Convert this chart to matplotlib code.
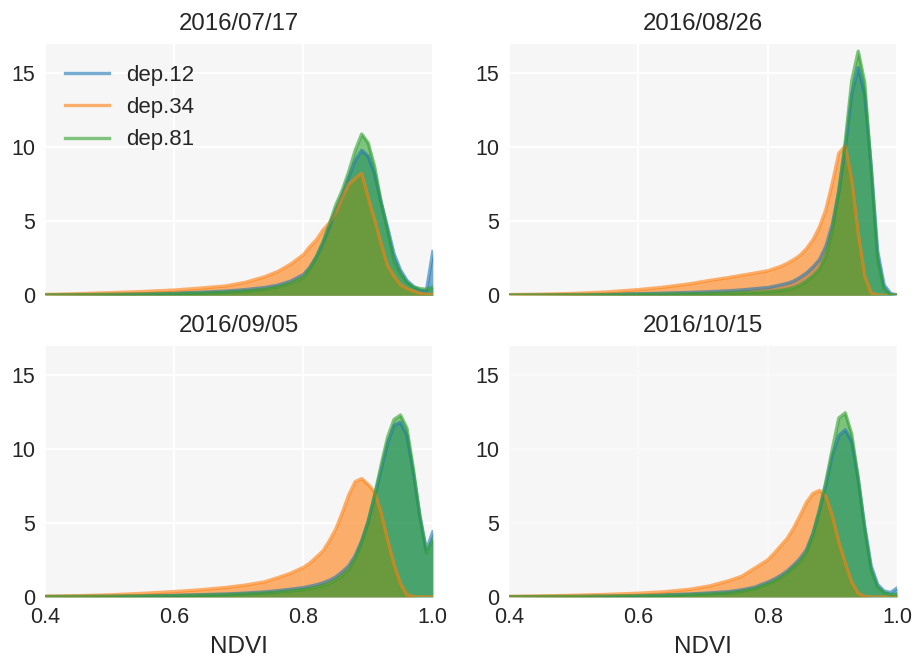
import numpy as np
import matplotlib
matplotlib.use("Agg")
import matplotlib.pyplot as plt

plt.rcParams['font.family'] = ['Liberation Sans', 'DejaVu Sans']

ndvi = [0.40, 0.45, 0.50, 0.55, 0.60, 0.64, 0.68, 0.71, 0.74, 0.76, 0.78,
        0.80, 0.81, 0.82, 0.83, 0.84, 0.85, 0.86, 0.87, 0.88, 0.89, 0.90,
        0.91, 0.92, 0.93, 0.94, 0.95, 0.96, 0.97, 0.98, 0.99, 1.00]

dates = ["2016/07/17", "2016/08/26", "2016/09/05", "2016/10/15"]
series_names = ["dep.12", "dep.34", "dep.81"]

# 2016/07/17
d0717_dep12 = [0.03, 0.05, 0.07, 0.10, 0.14, 0.20, 0.28, 0.38, 0.52, 0.68, 0.95,
               1.4, 1.9, 2.6, 3.5, 4.6, 5.8, 6.8, 8.0, 9.1, 9.8, 9.4,
               8.2, 6.3, 4.6, 2.8, 1.7, 1.0, 0.6, 0.35, 0.3, 2.95]
d0717_dep34 = [0.05, 0.10, 0.17, 0.25, 0.35, 0.48, 0.63, 0.87, 1.25, 1.6, 2.1,
               2.75, 3.3, 3.75, 4.4, 4.9, 5.6, 6.6, 7.5, 7.9, 8.25, 6.6,
               5.1, 3.5, 2.0, 1.3, 0.7, 0.45, 0.28, 0.14, 0.07, 0.04]
d0717_dep81 = [0.02, 0.03, 0.05, 0.07, 0.10, 0.14, 0.20, 0.28, 0.40, 0.55, 0.8,
               1.2, 1.8, 2.6, 3.6, 4.8, 6.1, 7.1, 8.35, 9.8, 10.9, 10.3,
               8.7, 6.3, 4.36, 2.33, 1.45, 0.85, 0.55, 0.45, 0.4, 0.55]

# 2016/08/26
d0826_dep12 = [0.02, 0.03, 0.05, 0.07, 0.10, 0.14, 0.19, 0.24, 0.30, 0.36, 0.44,
               0.52, 0.6, 0.7, 0.8, 0.95, 1.2, 1.5, 1.9, 2.4, 3.3, 4.8,
               7.0, 10.0, 13.6, 15.4, 13.6, 8.8, 3.0, 0.7, 0.12, 0.02]
d0826_dep34 = [0.04, 0.07, 0.12, 0.22, 0.38, 0.55, 0.78, 1.0, 1.2, 1.35, 1.5,
               1.65, 1.8, 1.95, 2.15, 2.4, 2.7, 3.15, 3.75, 4.6, 5.8, 7.6,
               9.6, 10.1, 7.8, 4.2, 1.3, 0.15, 0.02, 0.0, 0.0, 0.0]
d0826_dep81 = [0.01, 0.02, 0.03, 0.04, 0.06, 0.08, 0.10, 0.12, 0.15, 0.18, 0.20,
               0.24, 0.28, 0.33, 0.4, 0.5, 0.68, 0.95, 1.3, 1.75, 2.7, 4.4,
               7.1, 10.4, 14.5, 16.5, 14.4, 8.6, 2.4, 0.4, 0.05, 0.0]

# 2016/09/05
d0905_dep12 = [0.03, 0.04, 0.06, 0.08, 0.11, 0.15, 0.20, 0.26, 0.34, 0.42, 0.52,
               0.63, 0.72, 0.82, 0.95, 1.12, 1.35, 1.7, 2.1, 2.8, 3.8, 5.1,
               6.8, 8.6, 10.4, 11.6, 11.8, 10.9, 8.4, 5.5, 3.2, 4.4]
d0905_dep34 = [0.05, 0.08, 0.14, 0.24, 0.36, 0.48, 0.64, 0.80, 1.02, 1.3, 1.6,
               2.0, 2.3, 2.7, 3.1, 3.8, 4.6, 5.7, 6.9, 7.8, 8.0, 7.6,
               7.1, 5.7, 3.9, 2.2, 0.9, 0.15, 0.02, 0.0, 0.0, 0.0]
d0905_dep81 = [0.02, 0.03, 0.04, 0.06, 0.08, 0.11, 0.15, 0.20, 0.26, 0.32, 0.40,
               0.5, 0.57, 0.65, 0.76, 0.92, 1.15, 1.45, 1.85, 2.6, 3.7, 5.1,
               6.9, 8.9, 10.8, 12.0, 12.3, 11.4, 8.6, 5.4, 3.0, 3.9]

# 2016/10/15
d1015_dep12 = [0.02, 0.03, 0.05, 0.07, 0.10, 0.14, 0.20, 0.27, 0.36, 0.48, 0.66,
               1.0, 1.2, 1.45, 1.75, 2.15, 2.6, 3.2, 4.3, 5.8, 7.6, 9.6,
               10.9, 11.3, 10.5, 8.0, 4.8, 2.1, 0.85, 0.4, 0.3, 0.6]
d1015_dep34 = [0.04, 0.07, 0.11, 0.17, 0.25, 0.35, 0.52, 0.74, 1.1, 1.4, 1.95,
               2.5, 2.95, 3.45, 3.95, 4.65, 5.5, 6.4, 7.0, 7.2, 6.8, 5.5,
               3.7, 2.3, 1.0, 0.25, 0.03, 0.0, 0.0, 0.0, 0.0, 0.0]
d1015_dep81 = [0.01, 0.02, 0.03, 0.05, 0.07, 0.10, 0.15, 0.20, 0.27, 0.38, 0.55,
               0.87, 1.05, 1.3, 1.6, 2.0, 2.4, 3.0, 4.2, 5.9, 7.8, 10.0,
               12.1, 12.45, 11.0, 8.0, 4.6, 1.8, 0.65, 0.3, 0.15, 0.2]

panels = [
    (d0717_dep12, d0717_dep34, d0717_dep81),
    (d0826_dep12, d0826_dep34, d0826_dep81),
    (d0905_dep12, d0905_dep34, d0905_dep81),
    (d1015_dep12, d1015_dep34, d1015_dep81),
]

colors = ["#1f77b4", "#ff7f0e", "#2ca02c"]
bg = "#f6f6f6"
txt = "#262626"

fig, axes = plt.subplots(2, 2, figsize=(9.13, 6.64), dpi=100)
fig.subplots_adjust(left=0.049, right=0.9825, top=0.934, bottom=0.101,
                    wspace=0.196, hspace=0.2)

x = np.array(ndvi)
for i, ax in enumerate(axes.flat):
    ax.set_facecolor(bg)
    for s in ax.spines.values():
        s.set_visible(False)
    ax.set_axisbelow(True)
    gcol = "white" if i < 3 else "#f9f9f9"
    ax.grid(True, color=gcol, linewidth=1.5)
    for name, vals, c in zip(series_names, panels[i], colors):
        y = np.array(vals)
        ax.plot(x, y, color=c, alpha=0.6, lw=2.4, label=name)
        ax.fill_between(x, y, 0, color=c, alpha=0.6, lw=0)
    ax.set_xlim(0.4, 1.0)
    ax.set_ylim(0, 17.0)
    ax.set_xticks([0.4, 0.6, 0.8, 1.0])
    ax.set_yticks([0, 5, 10, 15])
    ax.tick_params(length=0, labelsize=15.5, colors=txt, pad=7)
    ax.set_title(dates[i], fontsize=17.3, color=txt, pad=10)
    if i < 2:
        ax.tick_params(labelbottom=False)
    else:
        ax.set_xticklabels(["0.4", "0.6", "0.8", "1.0"])
        ax.set_xlabel("NDVI", fontsize=17.5, color=txt, labelpad=6)

leg = axes[0, 0].legend(loc="upper left", frameon=False, fontsize=16,
                        handlelength=2.0, handletextpad=0.75,
                        labelspacing=0.5, borderaxespad=0.5,
                        bbox_to_anchor=(0.0, 0.995))
for t in leg.get_texts():
    t.set_color(txt)

fig.savefig("out.png", dpi=100, facecolor="white")
